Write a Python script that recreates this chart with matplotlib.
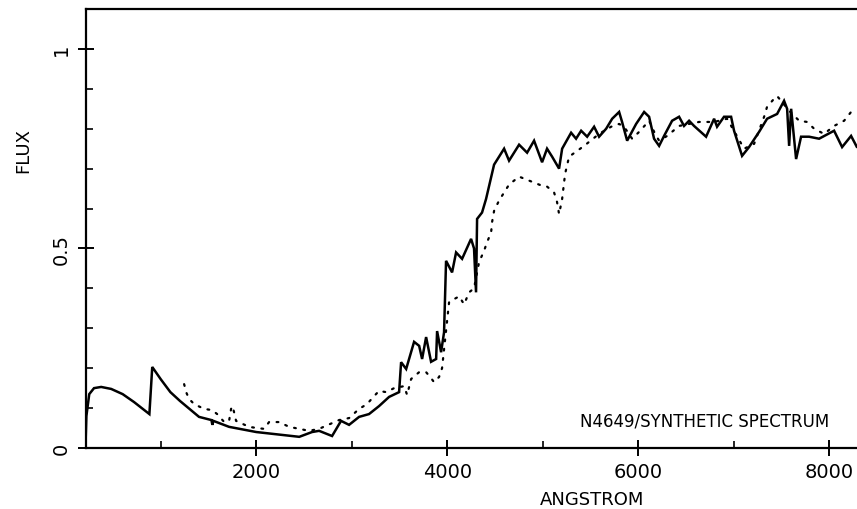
import numpy as np
import matplotlib
matplotlib.use("Agg")
from matplotlib import pyplot as plt
from matplotlib.ticker import MultipleLocator, FixedLocator

# observed spectrum (solid line): wavelength in Angstrom, flux
obs_wave = [210, 220, 250, 300, 375, 480, 600, 720, 880, 910, 1000, 1100, 1200, 1300,
            1400, 1530, 1540, 1550, 1715, 2000, 2375, 2450, 2584, 2658, 2794, 2888,
            2972, 3077, 3181, 3286, 3391, 3496, 3517, 3570, 3653, 3706, 3737, 3779,
            3831, 3884, 3894, 3936, 3967, 3988, 4051, 4093, 4156, 4250, 4281, 4302,
            4313, 4365, 4407, 4491, 4596, 4648, 4753, 4837, 4910, 4994, 5046, 5099,
            5172, 5204, 5298, 5350, 5403, 5466, 5539, 5591, 5665, 5728, 5801, 5832,
            5885, 5979, 6063, 6115, 6167, 6220, 6272, 6356, 6429, 6481, 6534, 6586,
            6712, 6796, 6827, 6900, 6974, 7005, 7089, 7162, 7267, 7351, 7456, 7529,
            7561, 7582, 7603, 7655, 7707, 7791, 7896, 8053, 8137, 8231, 8290]
obs_flux = [0.0, 0.08, 0.135, 0.150, 0.153, 0.148, 0.135, 0.115, 0.085, 0.203, 0.172, 0.14,
            0.118, 0.098, 0.078, 0.070, 0.058, 0.068, 0.053, 0.040, 0.030, 0.028, 0.040,
            0.043, 0.030, 0.068, 0.058, 0.078, 0.085, 0.105, 0.128, 0.140, 0.215, 0.198,
            0.266, 0.256, 0.223, 0.278, 0.216, 0.223, 0.293, 0.240, 0.290, 0.469, 0.440,
            0.490, 0.474, 0.524, 0.500, 0.390, 0.574, 0.590, 0.624, 0.710, 0.750, 0.720,
            0.760, 0.740, 0.770, 0.716, 0.750, 0.730, 0.700, 0.750, 0.790, 0.775, 0.795,
            0.780, 0.805, 0.780, 0.800, 0.825, 0.842, 0.817, 0.770, 0.812, 0.842, 0.830,
            0.775, 0.757, 0.782, 0.820, 0.830, 0.807, 0.820, 0.807, 0.780, 0.825, 0.805,
            0.830, 0.830, 0.795, 0.732, 0.754, 0.792, 0.825, 0.837, 0.870, 0.850, 0.757,
            0.850, 0.724, 0.780, 0.780, 0.775, 0.795, 0.754, 0.782, 0.755]

# synthetic spectrum (dotted line)
syn_wave = [1244, 1265, 1296, 1349, 1453, 1537, 1590, 1664, 1715, 1736, 1750, 1767, 1788,
            1924, 2008, 2082, 2134, 2239, 2344, 2450, 2553, 2658, 2867, 2972, 3077, 3160,
            3234, 3286, 3360, 3444, 3548, 3580, 3622, 3706, 3779, 3831, 3862, 3915, 3946,
            4020, 4072, 4125, 4177, 4229, 4281, 4334, 4386, 4418, 4460, 4470, 4491, 4543,
            4648, 4753, 4858, 4994, 5046, 5120, 5151, 5172, 5204, 5235, 5277, 5434, 5591,
            5717, 5801, 5853, 5937, 6010, 6115, 6178, 6220, 6304, 6429, 6639, 6796, 6932,
            7110, 7215, 7320, 7351, 7424, 7456, 7582, 7687, 7770, 7844, 7948, 8053, 8158,
            8231, 8290]
syn_flux = [0.160, 0.140, 0.123, 0.110, 0.098, 0.095, 0.085, 0.065, 0.068, 0.098, 0.105,
            0.090, 0.068, 0.053, 0.050, 0.048, 0.065, 0.065, 0.053, 0.048, 0.043, 0.048,
            0.070, 0.075, 0.098, 0.110, 0.130, 0.143, 0.140, 0.150, 0.155, 0.133, 0.173,
            0.190, 0.190, 0.175, 0.165, 0.178, 0.200, 0.366, 0.373, 0.380, 0.360, 0.390,
            0.400, 0.466, 0.494, 0.516, 0.540, 0.566, 0.594, 0.620, 0.660, 0.680, 0.670,
            0.657, 0.655, 0.640, 0.616, 0.586, 0.624, 0.687, 0.730, 0.757, 0.787, 0.805,
            0.812, 0.805, 0.775, 0.792, 0.820, 0.787, 0.770, 0.782, 0.807, 0.817, 0.817,
            0.825, 0.750, 0.762, 0.830, 0.855, 0.875, 0.882, 0.845, 0.820, 0.817, 0.800,
            0.787, 0.807, 0.820, 0.842, 0.835]

x_major = [2000, 4000, 6000, 8000]
x_minor = [1000, 3000, 5000, 7000]
y_major = [0, 0.5, 1]
y_labels = ["0", "0.5", "1"]

fig = plt.figure(figsize=(8.57, 5.10), dpi=100)
ax = fig.add_axes([86 / 857, 61 / 510, (857 - 86) / 857, 439 / 510])

ax.plot(obs_wave, obs_flux, color="black", lw=1.8, solid_joinstyle="miter")
ax.plot(syn_wave, syn_flux, color="black", lw=1.6, linestyle=(0, (0.8, 3.4)),
        dash_capstyle="round")

ax.set_xlim(216, 8293)
ax.set_ylim(0, 1.10)

ax.xaxis.set_major_locator(FixedLocator(x_major))
ax.xaxis.set_minor_locator(FixedLocator(x_minor))
ax.yaxis.set_major_locator(FixedLocator(y_major))
ax.yaxis.set_minor_locator(MultipleLocator(0.1))
ax.set_yticklabels(y_labels, rotation=90, va="center")

ax.tick_params(which="major", direction="inout", length=12, width=1.4,
               labelsize=14, pad=4)
ax.tick_params(which="minor", direction="in", length=5, width=1.2)
ax.tick_params(axis="y", which="major", pad=5)
ax.tick_params(top=False, right=False)

ax.spines["right"].set_visible(False)
for s in ["left", "bottom", "top"]:
    ax.spines[s].set_linewidth(1.6)

ax.set_xlabel("ANGSTROM", fontsize=13)
ax.xaxis.set_label_coords((592 - 86) / 771, -42 / 439)
ax.set_ylabel("FLUX", fontsize=13)
ax.yaxis.set_label_coords(-54 / 771, 0.68)

ax.text(8000, 0.07, "N4649/SYNTHETIC SPECTRUM", fontsize=12, ha="right", va="center")

fig.savefig("out.png", dpi=100)
